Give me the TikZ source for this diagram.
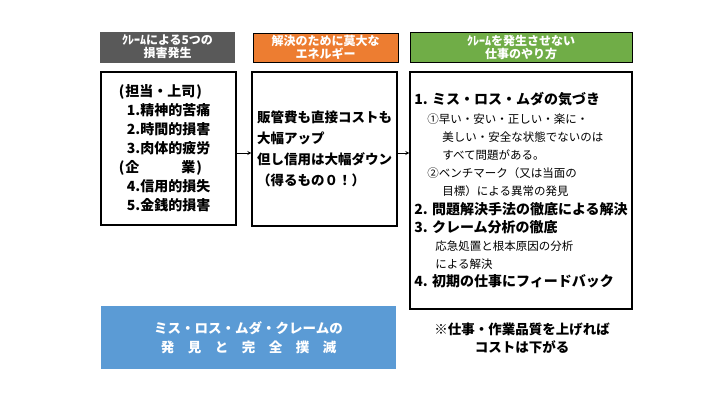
\documentclass[tikz,border=0pt]{standalone}
\usepackage{fontspec}
\setmainfont{Noto Sans CJK JP}
\definecolor{hdgray}{HTML}{595959}
\definecolor{hdorange}{HTML}{ED7D31}
\definecolor{hdgreen}{HTML}{70AD47}
\definecolor{cblue}{HTML}{5B9BD5}
\newcommand{\lightline}{\fontsize{11.5}{18.2}\selectfont\mdseries}

\begin{document}
\begin{tikzpicture}[>=stealth, x=1pt, y=-1pt,
    head/.style={draw=black, line width=1pt, text=white, align=center, inner sep=0pt,
        font=\fontsize{12}{13}\selectfont\bfseries},
    panel/.style={draw=black, line width=1.2pt, align=left, inner sep=0pt,
        font=\fontsize{14}{19}\selectfont\bfseries}]
    \useasboundingbox (0,0) rectangle (720,405);
    % headers
    \node[head, fill=hdgray, draw=hdgray, minimum width=134pt, minimum height=30pt] (hdA) at (167.5,47) {ｸﾚｰﾑによる5つの\\損害発生};
    \node[head, fill=hdorange, minimum width=145pt, minimum height=29pt] (hdB) at (325.5,47.5) {解決のために莫大な\\エネルギー};
    \node[head, fill=hdgreen, minimum width=222pt, minimum height=30pt] (hdC) at (521,47) {ｸﾚｰﾑを発生させない\\仕事のやり方};
    % panels
    \node[panel, minimum width=135pt, minimum height=153pt] (loss) at (168.5,148.5) {(\kern1pt 担当・上司\kern1pt)\hspace*{16pt}\mbox{}\\
        \hspace*{8pt}1.精神的苦痛\\ \hspace*{8pt}2.時間的損害\\ \hspace*{8pt}3.肉体的疲労\\
        (\kern1pt 企　　　業\kern1pt)\\ \hspace*{8pt}4.信用的損失\\ \hspace*{8pt}5.金銭的損害};
    \node[panel, minimum width=145pt, minimum height=154pt, font=\fontsize{13.5}{21}\selectfont\bfseries] (energy) at (324.5,149)
        {販管費も直接コストも\\大幅アップ\\但し信用は大幅ダウン\\（得るもの０！）};
    \node[panel, minimum width=222pt, minimum height=237pt, font=\fontsize{14}{18.2}\selectfont\bfseries] (way) at (521,190.5)
        {1. ミス・ロス・ムダの気づき\\
        {\lightline\hspace*{13pt}①早い・安い・正しい・楽に・}\\
        {\lightline\hspace*{28pt}美しい・安全な状態でないのは}\\
        {\lightline\hspace*{28pt}すべて問題がある。}\\
        {\lightline\hspace*{13pt}②ベンチマーク（又は当面の}\\
        {\lightline\hspace*{28pt}目標）による異常の発見}\\
        2. 問題解決手法の徹底による解決\\
        3. クレーム分析の徹底\\
        {\lightline\hspace*{21pt}応急処置と根本原因の分析}\\
        {\lightline\hspace*{21pt}による解決}\\
        4. 初期の仕事にフィードバック};
    \draw[->, thick] ([yshift=-4.5pt]loss.east) -- ([yshift=-4pt]energy.west);
    \draw[->, thick] ([yshift=-4pt]energy.east) -- ([yshift=-4pt]energy.east -| way.west);
    % bottom
    \node[fill=cblue, text=white, align=center, minimum width=295pt, minimum height=63pt,
        font=\fontsize{13.5}{19}\selectfont\bfseries] (goal) at (248.5,337.5)
        {ミス・ロス・ムダ・クレームの\\発　見　と　完　全　撲　滅};
    \node[align=center, font=\fontsize{13.5}{18}\selectfont\bfseries] (note) at (522,338)
        {※仕事・作業品質を上げれば\\コストは下がる};
\end{tikzpicture}
\end{document}
